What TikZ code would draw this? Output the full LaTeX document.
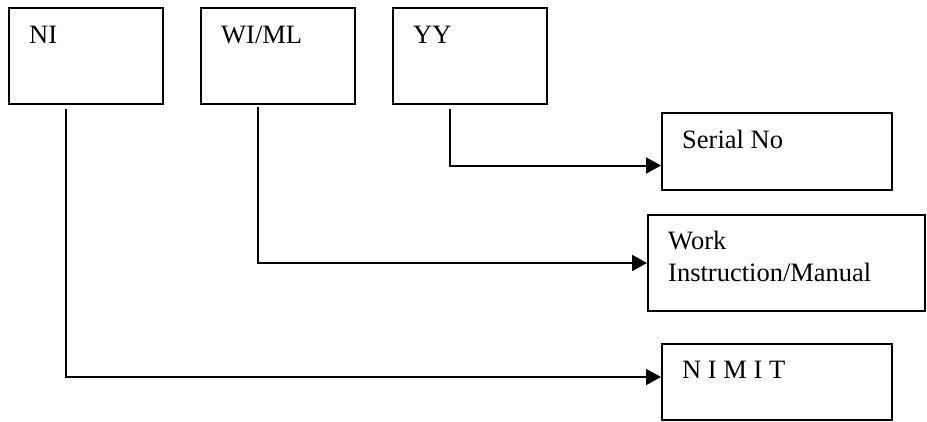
\documentclass[tikz,border=0pt]{standalone}
\usepackage{fontspec}
\setmainfont{Liberation Serif}
\usetikzlibrary{arrows.meta}

\begin{document}
\begin{tikzpicture}[x=1pt, y=-1pt,
    box/.style={draw, line width=2pt, rectangle, inner sep=0pt},
    lbl/.style={anchor=base west, inner sep=0pt, align=left,
      font=\fontsize{26.5}{32}\selectfont},
    conn/.style={line width=2pt, -{Triangle[length=15pt, width=16pt]}}]
  \useasboundingbox (0,0) rectangle (927,421);
  % code parts
  \node[box, minimum width=154pt, minimum height=96pt] (ni)   at (86,56)  {};
  \node[box, minimum width=154pt, minimum height=96pt] (wiml) at (278,56) {};
  \node[box, minimum width=154pt, minimum height=96pt] (yy)   at (470,56) {};
  \node[lbl] (nilbl)   at ([xshift=21pt, yshift=-36pt]ni.north west)   {NI};
  \node[lbl] (wimllbl) at ([xshift=21pt, yshift=-36pt]wiml.north west) {WI/ML};
  \node[lbl] (yylbl)   at ([xshift=21pt, yshift=-36pt]yy.north west)   {YY};
  % meanings
  \node[box, minimum width=230pt, minimum height=77pt] (serial) at (777,151.5) {};
  \node[box, minimum width=277pt, minimum height=96pt] (work)   at (786.5,263) {};
  \node[box, minimum width=230pt, minimum height=76pt] (nimit)  at (777,382)   {};
  \node[lbl] (seriallbl) at ([xshift=21pt, yshift=-36pt]serial.north west) {Serial No};
  % base of a two-line node is the last line
  \node[lbl] (worklbl)   at ([xshift=21pt, yshift=-67pt]work.north west)   {Work\\Instruction/Manual};
  \node[lbl] (nimitlbl)  at ([xshift=21pt, yshift=-35pt]nimit.north west)  {N I M I T};
  % connectors
  \coordinate (niout)   at ([xshift=58pt, yshift=-4pt]ni.south west);
  \coordinate (wimlout) at ([xshift=58pt, yshift=-2pt]wiml.south west);
  \coordinate (yyout)   at ([xshift=58pt, yshift=-4pt]yy.south west);
  \draw[conn] (niout)   |- ([yshift=5pt]nimit.west);
  \draw[conn] (wimlout) |- (work.west);
  \draw[conn] (yyout)   |- ([yshift=-14pt]serial.west);
\end{tikzpicture}
\end{document}
